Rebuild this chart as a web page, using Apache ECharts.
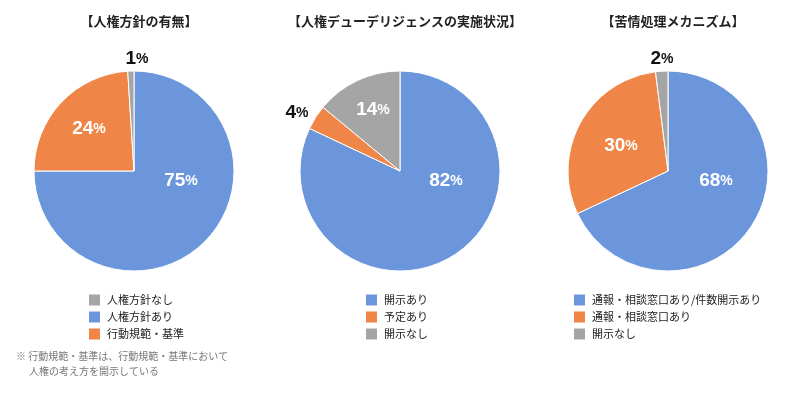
<!DOCTYPE html>
<html><head><meta charset="utf-8">
<script src="https://cdn.jsdelivr.net/npm/echarts@6/dist/echarts.min.js"></script>
<style>html,body{margin:0;padding:0;background:#fff}#c{width:800px;height:395px}</style>
</head><body><div id="c"></div>
<script>
const titles = ['【人権方針の有無】', '【人権デューデリジェンスの実施状況】', '【苦情処理メカニズム】'];
const names1 = ['人権方針あり', '行動規範・基準', '人権方針なし'];
const values1 = [75, 24, 1];
const legend1 = ['人権方針なし', '人権方針あり', '行動規範・基準'];
const names2 = ['開示あり', '予定あり', '開示なし'];
const values2 = [82, 4, 14];
const legend2 = ['開示あり', '予定あり', '開示なし'];
const names3 = ['通報・相談窓口あり/件数開示あり', '通報・相談窓口あり', '開示なし'];
const values3 = [68, 30, 2];
const legend3 = ['通報・相談窓口あり/件数開示あり', '通報・相談窓口あり', '開示なし'];
const footnote = ['※ 行動規範・基準は、行動規範・基準において', '人権の考え方を開示している'];

const colors = ['#6C96DC', '#EF8547', '#A5A5A5'];
const centers = [[134, 171], [400, 171], [668, 171]];
// label anchor positions (style), per series / slice
const labelPos = [
  [[181, 181], [89, 129], [137, 59]],
  [[446, 181], [297, 113], [373, 110]],
  [[716, 181], [621, 146], [662, 59]]
];
const footLeft = [16, 29];

const font = '"Liberation Sans", Arial, "Noto Sans CJK JP", sans-serif';
const jfont = '"Noto Sans CJK JP", sans-serif';

function richFor(c) {
  return {
    n: { fontSize: 19, fontWeight: 'bold', fontFamily: font, color: c },
    p: { fontSize: 14, fontWeight: 'bold', fontFamily: font, color: c }
  };
}

function mkSeries(idx, names, values) {
  return {
    type: 'pie',
    center: centers[idx],
    radius: [0, 100],
    startAngle: 90,
    clockwise: true,
    silent: true,
    animation: false,
    itemStyle: { borderColor: '#fff', borderWidth: 1 },
    label: {
      show: true,
      position: 'inside',
      formatter: p => '{n|' + p.value + '}{p|%}',
      rich: richFor('#fff')
    },
    labelLine: { show: false },
    labelLayout: p => {
      const pos = labelPos[idx][p.dataIndex];
      return { x: pos[0], y: pos[1], align: 'center', verticalAlign: 'middle' };
    },
    data: names.map((n, i) => ({
      name: n, value: values[i],
      itemStyle: { color: colors[i] },
      label: { rich: richFor(values[i] < 5 ? '#111' : '#fff') }
    }))
  };
}

function mkLegend(left, data) {
  return {
    orient: 'vertical', left: left, top: 294, padding: 0,
    itemWidth: 11, itemHeight: 11, itemGap: 5,
    icon: 'rect', selectedMode: false,
    itemStyle: { borderWidth: 0 },
    textStyle: { fontSize: 11, lineHeight: 12, color: '#222', fontFamily: jfont, padding: [0, 0, 0, 2] },
    data: data
  };
}

const chart = echarts.init(document.getElementById('c'), null, { renderer: 'canvas' });
chart.setOption({
  backgroundColor: '#fff',
  animation: false,
  title: titles.map((t, i) => ({
    text: t, left: centers[i][0], top: 10, textAlign: 'center',
    textStyle: { fontSize: 13, fontWeight: 'bold', color: '#222', fontFamily: jfont }
  })),
  legend: [mkLegend(89, legend1), mkLegend(366, legend2), mkLegend(574, legend3)],
  graphic: footnote.map((t, i) => ({
    type: 'text', left: footLeft[i], top: 351 + i * 15,
    style: { text: t, fontSize: 10, fill: '#777', fontFamily: jfont }
  })),
  series: [mkSeries(0, names1, values1), mkSeries(1, names2, values2), mkSeries(2, names3, values3)]
});
</script></body></html>
